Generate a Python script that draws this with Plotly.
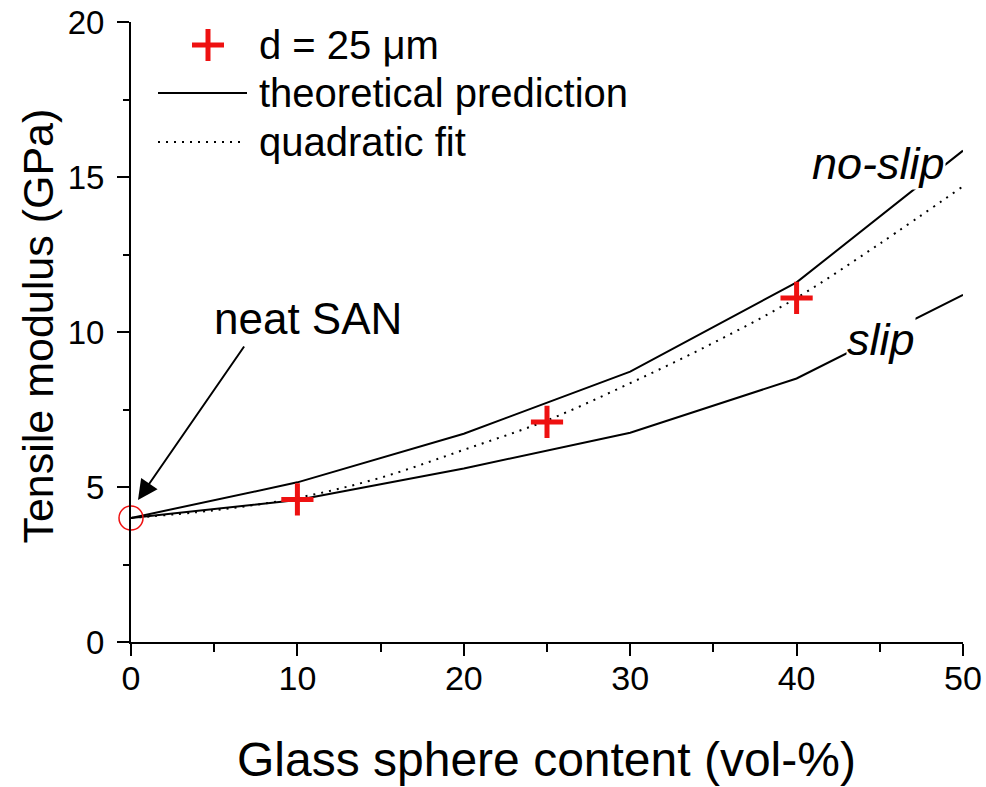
import plotly.graph_objects as go

# Glass sphere content (vol-%) and tensile modulus (GPa)
x_meas = [10, 25, 40]
e_meas = [4.6, 7.1, 11.1]

x_neat = [0]
e_neat = [4.0]

x_theory = [0, 10, 20, 30, 40, 50]
e_no_slip = [4.0, 5.15, 6.72, 8.72, 11.6, 15.85]
e_slip = [4.0, 4.58, 5.6, 6.75, 8.5, 11.2]

x_fit = [0, 5, 10, 15, 20, 25, 30, 35, 40, 45, 50]
e_fit = [4.0, 4.25, 4.65, 5.3, 6.2, 7.15, 8.35, 9.65, 11.1, 12.85, 14.7]

FONT = "Liberation Sans, Arial, sans-serif"
RED = "#ee1111"

fig = go.Figure()

fig.add_trace(go.Scatter(x=x_theory, y=e_no_slip, mode="lines",
                         line=dict(color="black", width=2), showlegend=False))
fig.add_trace(go.Scatter(x=x_theory, y=e_slip, mode="lines",
                         line=dict(color="black", width=2), showlegend=False))
fig.add_trace(go.Scatter(x=x_fit, y=e_fit, mode="lines", line_shape="spline",
                         line=dict(color="black", width=2, dash="2px,6px"),
                         showlegend=False))
fig.add_trace(go.Scatter(x=x_meas, y=e_meas, mode="markers", cliponaxis=False,
                         marker=dict(symbol="cross-thin", size=23, color=RED,
                                     line=dict(color=RED, width=5)),
                         showlegend=False))
fig.add_trace(go.Scatter(x=x_neat, y=e_neat, mode="markers", cliponaxis=False,
                         marker=dict(symbol="circle-open", size=24, color=RED,
                                     line=dict(color=RED, width=1.5)),
                         showlegend=False))

annotations = [
    # curve labels (white box hides the line beneath)
    dict(x=44.9, y=15.45, xref="x", yref="y", text="<i>no-slip</i>",
         showarrow=False, font=dict(size=45, family=FONT, color="black"),
         bgcolor="white", borderpad=0),
    dict(x=45.1, y=9.75, xref="x", yref="y", text="<i>slip</i>",
         showarrow=False, font=dict(size=45, family=FONT, color="black"),
         bgcolor="white", borderpad=0),
    # neat SAN pointer
    dict(x=10.65, y=10.45, xref="x", yref="y", text="neat SAN",
         showarrow=False, font=dict(size=44, family=FONT, color="black")),
    dict(x=0.42, y=4.58, xref="x", yref="y", ax=6.86, ay=9.58,
         axref="x", ayref="y", text="", showarrow=True,
         arrowhead=2, arrowsize=2, arrowwidth=2, arrowcolor="black",
         standoff=0, startstandoff=0),
    # axis titles
    dict(x=0.4995, y=-0.19, xref="paper", yref="paper",
         text="Glass sphere content (vol-%)", showarrow=False,
         xanchor="center", yanchor="middle",
         font=dict(size=48, family=FONT, color="black")),
    dict(x=-0.112, y=0.51, xref="paper", yref="paper",
         text="Tensile modulus (GPa)", showarrow=False, textangle=-90,
         xanchor="center", yanchor="middle",
         font=dict(size=43, family=FONT, color="black")),
]

# legend entries
legend_rows = [(45, "d = 25 \u03bcm"), (93, "theoretical prediction"),
               (142, "quadratic fit")]
PLOT_L, PLOT_R, PLOT_T, PLOT_B = 131, 963, 22, 642


def px_x(px):
    return (px - PLOT_L) / (PLOT_R - PLOT_L)


def px_y(py):
    return (PLOT_B - py) / (PLOT_B - PLOT_T)


for py, label in legend_rows:
    annotations.append(dict(x=px_x(257), y=px_y(py), xref="paper", yref="paper",
                            text=label, showarrow=False, xanchor="left",
                            yanchor="middle",
                            font=dict(size=40, family=FONT, color="black")))

shapes = [
    # cross sample
    dict(type="line", xref="paper", yref="paper", x0=px_x(192), x1=px_x(224),
         y0=px_y(45), y1=px_y(45), line=dict(color=RED, width=5)),
    dict(type="line", xref="paper", yref="paper", x0=px_x(208), x1=px_x(208),
         y0=px_y(29), y1=px_y(61), line=dict(color=RED, width=5)),
    # solid sample
    dict(type="line", xref="paper", yref="paper", x0=px_x(158), x1=px_x(247),
         y0=px_y(93), y1=px_y(93), line=dict(color="black", width=2)),
    # dotted sample
    dict(type="line", xref="paper", yref="paper", x0=px_x(158), x1=px_x(242),
         y0=px_y(142), y1=px_y(142),
         line=dict(color="black", width=2, dash="2px,6px")),
]

fig.update_layout(
    width=986, height=787,
    margin=dict(l=PLOT_L, r=986 - PLOT_R, t=PLOT_T, b=787 - PLOT_B,
                autoexpand=False),
    paper_bgcolor="white", plot_bgcolor="white",
    font=dict(family=FONT, color="black"),
    annotations=annotations, shapes=shapes,
    showlegend=False,
)

fig.update_xaxes(range=[0, 50], showgrid=False, zeroline=False,
                 showline=True, linecolor="black", linewidth=2,
                 ticks="outside", ticklen=12, tickwidth=2, tickcolor="black",
                 tick0=0, dtick=10, ticklabelstandoff=-7, automargin=False,
                 tickfont=dict(size=34, family=FONT, color="black"),
                 minor=dict(ticks="outside", dtick=5, ticklen=8, tickwidth=2,
                            tickcolor="black"))
fig.update_yaxes(range=[0, 20], showgrid=False, zeroline=False,
                 showline=True, linecolor="black", linewidth=2,
                 ticks="outside", ticklen=12, tickwidth=2, tickcolor="black",
                 tick0=0, dtick=5, ticklabelstandoff=6, automargin=False,
                 tickfont=dict(size=33, family=FONT, color="black"),
                 minor=dict(ticks="outside", dtick=2.5, ticklen=6, tickwidth=2,
                            tickcolor="black"))

fig.write_html("out.html")
